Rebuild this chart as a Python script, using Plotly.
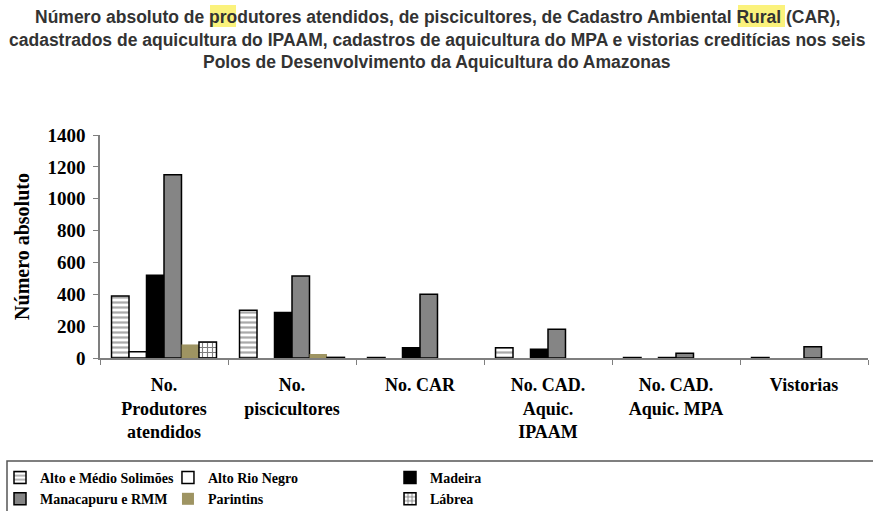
import plotly.graph_objects as go

categories = ["No.<br>Produtores<br>atendidos", "No.<br>piscicultores", "No. CAR",
              "No. CAD.<br>Aquic.<br>IPAAM", "No. CAD.<br>Aquic. MPA", "Vistorias"]

alto_medio = [390, 300, 3, 65, 3, 3]
alto_rio_negro = [40, None, None, None, None, None]
madeira = [520, 285, 65, 55, 3, None]
manacapuru = [1150, 515, 400, 180, 30, 70]
parintins = [85, 25, None, None, None, None]
labrea = [100, 4, None, None, None, None]

y_ticks = [0, 200, 400, 600, 800, 1000, 1200, 1400]

title_lines = [
    "Número absoluto de produtores atendidos, de piscicultores, de Cadastro Ambiental Rural (CAR),",
    "cadastrados de aquicultura do IPAAM, cadastros de aquicultura do MPA e vistorias creditícias nos seis",
    "Polos de Desenvolvimento da Aquicultura do Amazonas",
]

serif = "Liberation Serif"
line_black = dict(color="black", width=1.5)

series = [
    ("Alto e Médio Solimões", alto_medio,
     dict(color="white", line=line_black,
          pattern=dict(shape="-", fgcolor="#555555", bgcolor="white", size=5, solidity=0.45)), "legend"),
    ("Manacapuru e RMM", manacapuru, dict(color="#858585", line=line_black), "legend"),
    ("Alto Rio Negro", alto_rio_negro, dict(color="white", line=line_black), "legend2"),
    ("Parintins", parintins, dict(color="#9e9462", line=dict(width=0)), "legend2"),
    ("Madeira", madeira, dict(color="black", line=line_black), "legend3"),
    ("Lábrea", labrea,
     dict(color="white", line=line_black,
          pattern=dict(shape="+", fgcolor="black", bgcolor="white", size=5, solidity=0.4)), "legend3"),
]
order = ["Alto e Médio Solimões", "Alto Rio Negro", "Madeira", "Manacapuru e RMM", "Parintins", "Lábrea"]
smap = {s[0]: s for s in series}

fig = go.Figure()
for name in order:
    n, vals, marker, leg = smap[name]
    fig.add_trace(go.Bar(name=n, x=categories, y=vals, marker=marker, legend=leg))

legend_common = dict(orientation="v", yref="container", yanchor="top", y=(511 - 462) / 511,
                     xanchor="left",
                     font=dict(family=serif, size=14, color="black", weight="bold"),
                     bgcolor="rgba(0,0,0,0)", itemwidth=30, tracegroupgap=0)

fig.update_layout(
    width=873, height=511,
    margin=dict(l=100, r=5, t=135, b=153),
    paper_bgcolor="white", plot_bgcolor="white",
    barmode="group", bargap=0.18, bargroupgap=0,
    showlegend=True,
    legend=dict(**legend_common, x=-0.139),
    legend2=dict(**legend_common, x=0.0885),
    legend3=dict(**legend_common, x=0.3776),
    font=dict(family=serif, color="black"),
    xaxis=dict(showline=True, linecolor="#7f7f7f", linewidth=1.5, automargin=False,
               tickson="boundaries", ticks="outside", ticklen=5, tickcolor="#7f7f7f",
               ticklabelstandoff=10,
               tickfont=dict(family=serif, size=18, color="black", weight="bold"),
               showgrid=False),
    yaxis=dict(range=[0, 1400], tickvals=y_ticks, showline=True, linecolor="#7f7f7f", linewidth=1.5,
               automargin=False,
               ticks="outside", ticklen=5, tickcolor="#7f7f7f", showgrid=False, zeroline=False,
               ticklabelstandoff=4,
               tickfont=dict(family=serif, size=19, color="black", weight="bold"),
               title=dict(text="Número absoluto", standoff=12,
                          font=dict(family=serif, size=20, color="black", weight="bold"))),
)

# title highlights
for x0p, x1p in [(210, 236), (738, 785)]:
    fig.add_shape(type="rect", xref="paper", yref="paper",
                  x0=(x0p - 100) / 768, x1=(x1p - 100) / 768,
                  y0=(358 - 27) / 223, y1=(358 - 5) / 223,
                  fillcolor="#fbf27c", line=dict(width=0), layer="below")

# title lines
for txt, ypix in zip(title_lines, [17, 40, 62]):
    fig.add_annotation(text=txt, xref="paper", yref="paper",
                       x=(437 - 100) / 768, y=(358 - ypix) / 223,
                       showarrow=False, xanchor="center", yanchor="middle",
                       font=dict(family="Liberation Sans", size=17.5, color="#333333", weight="bold"))

# legend frame
fig.add_shape(type="rect", xref="paper", yref="paper",
              x0=(7 - 100) / 768, x1=(880 - 100) / 768,
              y0=(358 - 520) / 223, y1=(358 - 461) / 223,
              line=dict(color="#555555", width=1.5), fillcolor="rgba(0,0,0,0)")

fig.write_html("out.html", config={"displayModeBar": False},
               post_script="document.body.style.margin='0';")
